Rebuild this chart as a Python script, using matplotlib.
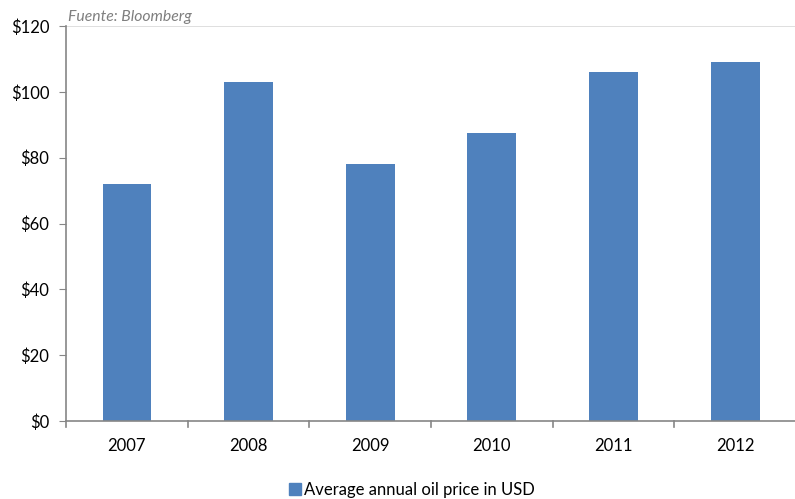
import matplotlib
matplotlib.use("Agg")
import matplotlib.pyplot as plt
from matplotlib.patches import Patch

years = ["2007", "2008", "2009", "2010", "2011", "2012"]
prices = [72, 103, 78, 87.5, 106, 109]
yticks = [0, 20, 40, 60, 80, 100, 120]
ytick_labels = ["$0", "$20", "$40", "$60", "$80", "$100", "$120"]

plt.rcParams['font.family'] = ['Lato', 'DejaVu Sans']
W, H = 795, 499
fig = plt.figure(figsize=(W/100, H/100), dpi=100)
ax = fig.add_axes([66/W, 1-421/H, (796-66)/W, (421-26)/H])

color = "#4F81BD"
x = list(range(len(years)))
ax.bar(x, prices, width=0.4, color=color, zorder=2)
ax.set_xlim(-0.5, len(years)-0.5)
ax.set_ylim(0, 120)
ax.set_yticks(yticks)
ax.set_yticklabels(ytick_labels, fontsize=12)
ax.set_xticks(x)
ax.set_xticklabels(years, fontsize=12)
ax.tick_params(axis='x', length=0, pad=12)
ax.tick_params(axis='y', length=5, color="#868686", pad=7, direction='out')
for b in [i + 0.5 for i in range(-1, len(years))]:
    ax.plot([b, b], [0, -1.8], color="#868686", lw=1.2, clip_on=False, zorder=3)
ax.axhline(120, color="#D9D9D9", lw=1.2, zorder=1)
for s in ["top", "right"]:
    ax.spines[s].set_visible(False)
for s in ["left", "bottom"]:
    ax.spines[s].set_color("#868686")
    ax.spines[s].set_linewidth(1.2)

fig.text(68/W, 1-17/H, "Fuente: Bloomberg", fontsize=11.3, style='italic', color="#7F7F7F", va='center')
fig.legend(handles=[Patch(color=color, label="Average annual oil price in USD")],
           loc='center', bbox_to_anchor=(412/W, 1-490/H), frameon=False,
           fontsize=12, handlelength=0.7, handleheight=0.7, handletextpad=0.2)
fig.savefig("out.png", dpi=100)
